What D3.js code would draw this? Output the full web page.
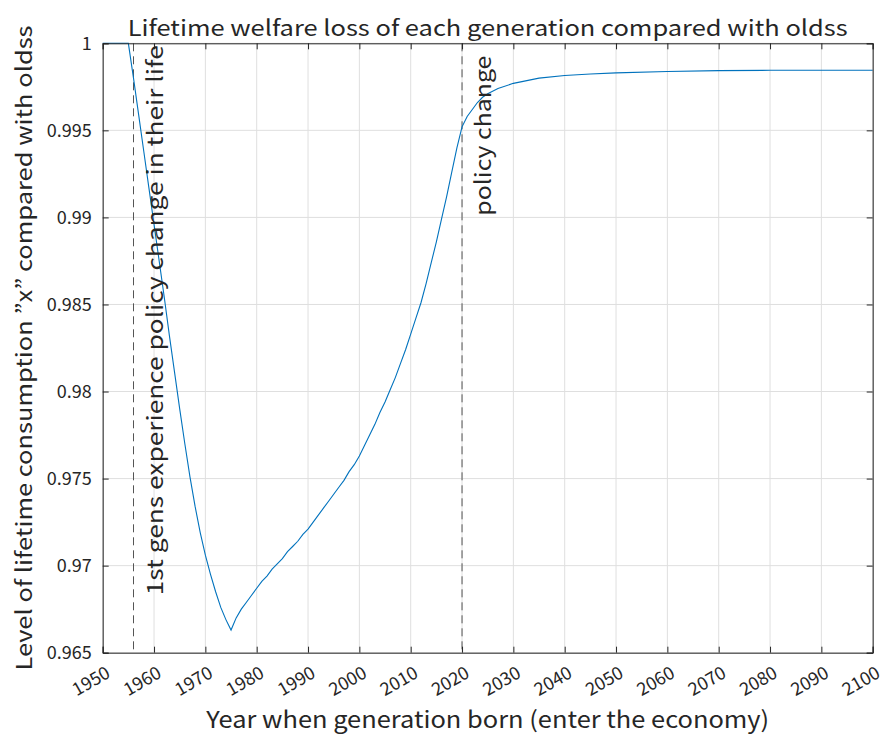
<!DOCTYPE html>
<html>
<head>
<meta charset="utf-8">
<script src="https://cdn.jsdelivr.net/npm/d3@7"></script>
<style>
  body { margin: 0; background: #fff; }
  svg text { font-family: "Noto Sans CJK JP", "Noto Sans", sans-serif; fill: #262626; }
</style>
</head>
<body>
<div id="chart"></div>
<script>
// generation birth year and lifetime consumption level relative to old steady state
var years = [1950, 1955, 1956, 1957, 1958, 1959, 1960, 1961, 1962, 1963, 1964, 1965, 1966, 1967,
  1968, 1969, 1970, 1971, 1972, 1973, 1974, 1975, 1976, 1977, 1978, 1979, 1980, 1981, 1982,
  1983, 1984, 1985, 1986, 1987, 1988, 1989, 1990, 1991, 1992, 1993, 1994, 1995, 1996, 1997,
  1998, 1999, 2000, 2001, 2002, 2003, 2004, 2005, 2006, 2007, 2008, 2009, 2010, 2011, 2012,
  2013, 2014, 2015, 2016, 2017, 2018, 2019, 2020, 2021, 2022, 2023, 2024, 2025, 2027, 2030,
  2035, 2040, 2045, 2050, 2060, 2070, 2080, 2090, 2100];
var level = [1.0000, 1.0000, 0.9980, 0.9959, 0.9938, 0.9917, 0.9896, 0.9875, 0.9854, 0.9832,
  0.9811, 0.9790, 0.9770, 0.9751, 0.9734, 0.9719, 0.9706, 0.9695, 0.9685, 0.9676, 0.9669,
  0.9663, 0.9670, 0.9675, 0.9679, 0.9683, 0.9687, 0.9691, 0.9694, 0.9698, 0.9701, 0.9704,
  0.9708, 0.9711, 0.9714, 0.9718, 0.9721, 0.9725, 0.9729, 0.9733, 0.9737, 0.9741, 0.9745,
  0.9749, 0.9754, 0.9758, 0.9763, 0.9769, 0.9775, 0.9781, 0.9788, 0.9794, 0.9801, 0.9808,
  0.9816, 0.9824, 0.9833, 0.9842, 0.9851, 0.9862, 0.9874, 0.9886, 0.9899, 0.9912, 0.9926,
  0.9940, 0.9952, 0.9958, 0.9962, 0.9966, 0.9969, 0.9971, 0.9974, 0.9977, 0.99800, 0.99815,
  0.99824, 0.99830, 0.99838, 0.99843, 0.99845, 0.99845, 0.99845];

var xTicks = [1950, 1960, 1970, 1980, 1990, 2000, 2010, 2020, 2030, 2040, 2050, 2060, 2070, 2080, 2090, 2100];
var yTicks = [0.965, 0.97, 0.975, 0.98, 0.985, 0.99, 0.995, 1];
var yTickLabels = ["0.965", "0.97", "0.975", "0.98", "0.985", "0.99", "0.995", "1"];

// vertical markers
var markerYears = [1956, 2020];
var markerTexts = ["1st gens experience policy change in their life", "policy change"];
var markerTextStart = [0.9683, 0.9901];

var width = 883, height = 735;
var margin = {top: 43.3, right: 10.3, bottom: 82.3, left: 102.7};
var iw = width - margin.left - margin.right;
var ih = height - margin.top - margin.bottom;

var svg = d3.select("#chart").append("svg")
    .attr("width", width).attr("height", height);

var x = d3.scaleLinear().domain([1950, 2100]).range([0, iw]);
var y = d3.scaleLinear().domain([0.965, 1]).range([ih, 0]);

var g = svg.append("g")
    .attr("transform", "translate(" + margin.left + "," + margin.top + ")");

// grid
g.append("g").selectAll("line").data(xTicks).enter().append("line")
    .attr("x1", function(d){ return x(d); }).attr("x2", function(d){ return x(d); })
    .attr("y1", 0).attr("y2", ih)
    .attr("stroke", "#dfdfdf").attr("stroke-width", 1);
g.append("g").selectAll("line").data(yTicks).enter().append("line")
    .attr("y1", function(d){ return y(d); }).attr("y2", function(d){ return y(d); })
    .attr("x1", 0).attr("x2", iw)
    .attr("stroke", "#dfdfdf").attr("stroke-width", 1);

// dashed markers
g.append("g").selectAll("line").data(markerYears).enter().append("line")
    .attr("x1", function(d){ return x(d); }).attr("x2", function(d){ return x(d); })
    .attr("y1", 0).attr("y2", ih)
    .attr("stroke", "#555").attr("stroke-width", 1)
    .attr("stroke-dasharray", "8,5");

// data line
var line = d3.line()
    .x(function(d, i){ return x(years[i]); })
    .y(function(d){ return y(d); });
g.append("path").datum(level)
    .attr("d", line)
    .attr("fill", "none")
    .attr("stroke", "#0072bd")
    .attr("stroke-width", 1.1);

// marker texts (stretched to match the wider original font)
var markerLen = [550, 160];
markerYears.forEach(function(yr, i) {
  g.append("text")
      .attr("transform", "translate(" + (x(yr) + 29) + "," + y(markerTextStart[i]) + ") rotate(-90)")
      .attr("font-size", 22)
      .attr("textLength", markerLen[i])
      .attr("lengthAdjust", "spacingAndGlyphs")
      .text(markerTexts[i]);
});

// axes: inner ticks on all four sides
var tk = 6;
var xAxisB = d3.axisBottom(x).tickValues(xTicks).tickSize(-tk).tickFormat("");
var xAxisT = d3.axisTop(x).tickValues(xTicks).tickSize(-tk).tickFormat("");
var yAxisL = d3.axisLeft(y).tickValues(yTicks).tickSize(-tk).tickFormat("");
var yAxisR = d3.axisRight(y).tickValues(yTicks).tickSize(-tk).tickFormat("");

function style(sel) {
  sel.selectAll("path").attr("stroke", "#262626").attr("stroke-width", 1);
  sel.selectAll("line").attr("stroke", "#262626").attr("stroke-width", 1);
}
g.append("g").attr("transform", "translate(0," + ih + ")").call(xAxisB).call(style);
g.append("g").call(xAxisT).call(style);
g.append("g").call(yAxisL).call(style);
g.append("g").attr("transform", "translate(" + iw + ",0)").call(yAxisR).call(style);

// tick labels
g.append("g").selectAll("text").data(xTicks).enter().append("text")
    .attr("transform", function(d){ return "translate(" + (x(d) + 2) + "," + (ih + 12) + ") rotate(-30)"; })
    .attr("text-anchor", "end")
    .attr("dy", "0.75em")
    .attr("font-size", 18)
    .text(function(d){ return d; });
g.append("g").selectAll("text").data(yTicks).enter().append("text")
    .attr("x", -11)
    .attr("y", function(d){ return y(d); })
    .attr("dy", "0.35em")
    .attr("text-anchor", "end")
    .attr("font-size", 18)
    .text(function(d, i){ return yTickLabels[i]; });

// titles
svg.append("text")
    .attr("x", margin.left + iw / 2).attr("y", 36)
    .attr("text-anchor", "middle")
    .attr("font-size", 22)
    .attr("textLength", 720)
    .attr("lengthAdjust", "spacingAndGlyphs")
    .text("Lifetime welfare loss of each generation compared with oldss");
svg.append("text")
    .attr("x", margin.left + iw / 2).attr("y", 728)
    .attr("text-anchor", "middle")
    .attr("font-size", 23)
    .attr("textLength", 563)
    .attr("lengthAdjust", "spacingAndGlyphs")
    .text("Year when generation born (enter the economy)");
svg.append("text")
    .attr("transform", "translate(32," + (margin.top + ih / 2) + ") rotate(-90)")
    .attr("text-anchor", "middle")
    .attr("font-size", 22)
    .attr("textLength", 645)
    .attr("lengthAdjust", "spacingAndGlyphs")
    .text("Level of lifetime consumption \u201dx\u201d compared with oldss");
</script>
</body>
</html>
